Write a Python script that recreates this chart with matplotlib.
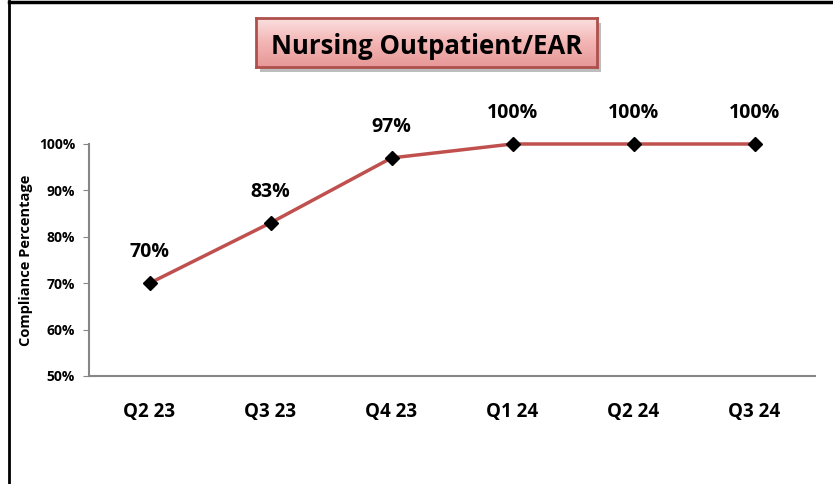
import numpy as np
import matplotlib
matplotlib.use("Agg")
import matplotlib.pyplot as plt
from matplotlib.lines import Line2D

plt.rcParams['font.family'] = ['Open Sans', 'DejaVu Sans']

quarters = ["Q2 23", "Q3 23", "Q4 23", "Q1 24", "Q2 24", "Q3 24"]
compliance = [70, 83, 97, 100, 100, 100]
y_ticks = [50, 60, 70, 80, 90, 100]

W, H = 833, 484
fig = plt.figure(figsize=(W / 100, H / 100), dpi=100)

# main axes: spine x 89..815, y 144 (100%)..376 (50%)
ax = fig.add_axes([89 / W, 1 - 376 / H, (815 - 89) / W, (376 - 144) / H])
x = np.arange(len(quarters))
ax.plot(x, compliance, color='#C0504D', lw=2.5, marker='D', ms=7.5,
        mfc='black', mec='black', zorder=3, clip_on=False)
for xi, v in zip(x, compliance):
    ax.annotate(f"{v}%", (xi, v), xytext=(0, 15), textcoords='offset points',
                ha='center', va='bottom', fontsize=14, fontweight='bold')

ax.set_xlim(-0.5, len(quarters) - 0.5)
ax.set_ylim(50, 100)
ax.set_yticks(y_ticks)
ax.set_yticklabels([f"{t}%" for t in y_ticks], fontsize=10, fontweight='bold')
ax.set_xticks(x)
ax.set_xticklabels(quarters, fontsize=13.5, fontweight='bold')
ax.tick_params(axis='x', length=0, pad=19)
ax.tick_params(axis='y', length=4, color='#868686', pad=6)
for s in ['top', 'right']:
    ax.spines[s].set_visible(False)
for s in ['left', 'bottom']:
    ax.spines[s].set_color('#868686')
    ax.spines[s].set_linewidth(1.5)
ax.set_ylabel("Compliance Percentage", fontsize=10.5, fontweight='bold', labelpad=4)

# title box with gradient fill and soft shadow
tx0, ty0, tx1, ty1 = 256, 18, 597, 67
sh = fig.add_axes([(tx0 + 4) / W, 1 - (ty1 + 5) / H, (tx1 - tx0) / W, (ty1 - ty0) / H])
sh.set_facecolor('#BDBDBD')
sh.set_xticks([]); sh.set_yticks([])
for s in sh.spines.values():
    s.set_visible(False)
tax = fig.add_axes([tx0 / W, 1 - ty1 / H, (tx1 - tx0) / W, (ty1 - ty0) / H])
grad = np.linspace(0, 1, 64)[:, None]
cmap = matplotlib.colors.LinearSegmentedColormap.from_list(
    'pink', ['#FBE0E0', '#F3B5B4', '#E69897'])
tax.imshow(grad, aspect='auto', cmap=cmap, extent=[0, 1, 0, 1], origin='upper')
tax.set_xlim(0, 1); tax.set_ylim(0, 1)
tax.set_xticks([]); tax.set_yticks([])
for s in tax.spines.values():
    s.set_color('#B0504D')
    s.set_linewidth(2)
tax.text(0.5, 0.42, "Nursing Outpatient/EAR", ha='center', va='center',
         fontsize=18.5, fontweight='bold', color='black')

# outer frame lines (left and top)
fig.add_artist(Line2D([8.5 / W, 8.5 / W], [0, 1 - 1 / H], color='black', lw=2))
fig.add_artist(Line2D([8.5 / W, 1], [1 - 1.5 / H, 1 - 1.5 / H], color='black', lw=2.5))

fig.savefig("out.png", dpi=100)
